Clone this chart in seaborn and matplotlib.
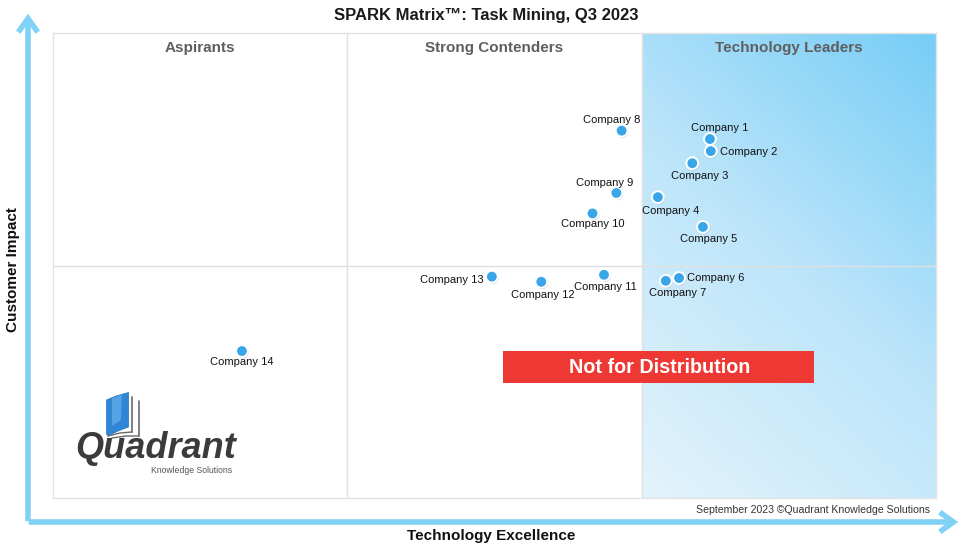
import numpy as np
import pandas as pd
import matplotlib
matplotlib.use("Agg")
import matplotlib.pyplot as plt
from matplotlib.colors import LinearSegmentedColormap
from matplotlib.patches import Polygon, Rectangle, FancyArrowPatch
import matplotlib.patheffects as pe
import seaborn as sns

# ---------------- data ----------------
companies = ["Company 1", "Company 2", "Company 3", "Company 4", "Company 5",
             "Company 6", "Company 7", "Company 8", "Company 9", "Company 10",
             "Company 11", "Company 12", "Company 13", "Company 14"]
tech_excellence = [74.4, 74.5, 72.4, 68.5, 73.6, 70.9, 69.4, 64.4, 63.8, 61.1,
                   62.4, 55.3, 49.7, 21.4]
customer_impact = [77.2, 74.6, 72.0, 64.7, 58.3, 47.3, 46.7, 79.0, 65.6, 61.2,
                   48.0, 46.5, 47.6, 31.6]
quadrant_names = ["Aspirants", "Strong Contenders", "Technology Leaders"]
title = "SPARK Matrix\u2122: Task Mining, Q3 2023"
x_title = "Technology Excellence"
y_title = "Customer Impact"
footer = "September 2023 \u00a9Quadrant Knowledge Solutions"
stamp = "Not for Distribution"

# label placement (pixel offsets, alignment) -- style only
label_style = [
    (10, 11, "center"), (9, -1, "left"), (7, -13, "center"), (13, -14, "center"),
    (6, -12.5, "center"), (8, 0, "left"), (12, -12, "center"), (-10, 10.5, "center"),
    (-12, 10, "center"), (0, -10.5, "center"), (1, -12, "center"), (2, -13, "center"),
    (-8, -3, "right"), (0, -11, "center"),
]

df = pd.DataFrame({"company": companies, "x": tech_excellence, "y": customer_impact})

sns.set_theme(style="white")
plt.rcParams["font.family"] = ["Liberation Sans", "DejaVu Sans"]

W, H = 972, 548
fig = plt.figure(figsize=(W / 100, H / 100), dpi=100)
ax = fig.add_axes([53 / W, 1 - 498 / H, (936 - 53) / W, (498 - 33) / H])
ax.set_xticks([])
ax.set_yticks([])
for s in ax.spines.values():
    s.set_color("#e2e2e2")
    s.set_linewidth(1)

# gradient in Technology Leaders column
cmap = LinearSegmentedColormap.from_list("lead", ["#e3f3fc", "#bde5fa", "#76cdf6"])
nx, ny = 200, 300
u = np.linspace(0, 1, nx)[None, :]
v = np.linspace(0, 1, ny)[:, None]
t = (u * 295 * 0.9 + v * 465) / (295 * 0.9 + 465)
ax.imshow(t, extent=[200 / 3, 100, 0, 100], origin="lower", cmap=cmap,
          aspect="auto", zorder=0, interpolation="bilinear")
ax.set_xlim(0, 100)
ax.set_ylim(0, 100)

# dividers
for xv in [100 / 3, 200 / 3]:
    ax.axvline(xv, color="#e0e0e0", lw=1, zorder=1)
ax.axhline(50, color="#e0e0e0", lw=1, zorder=1)

# quadrant titles
for i, name in enumerate(quadrant_names):
    ax.text((i + 0.5) * 100 / 3, 96.8, name, ha="center", va="center",
            fontsize=11, fontweight="bold", color="#5f5f5f", zorder=3)

# points
sns.scatterplot(data=df, x="x", y="y", ax=ax, s=72, color="#3aa6ea",
                edgecolor="white", linewidth=1.4, zorder=5, legend=False)
ax.collections[-1].set_path_effects([
    pe.SimplePatchShadow(offset=(0.6, -1.0), shadow_rgbFace="#888888", alpha=0.35),
    pe.Normal()])
ax.set_xlabel("")
ax.set_ylabel("")

for (name, xv, yv), (dx, dy, ha) in zip(zip(companies, tech_excellence, customer_impact), label_style):
    ax.annotate(name, (xv, yv), xytext=(dx, dy), textcoords="offset pixels",
                ha=ha, va="center", fontsize=8.0, color="#111111", zorder=6)

# stamp
ax.add_patch(Rectangle((503 / W, 1 - 383 / H), (814 - 503) / W, 32 / H,
                       transform=fig.transFigure, facecolor="#ee3833",
                       edgecolor="none", zorder=7))
fig.text((503 + 814) / 2 / W + 1 / W, 1 - 367.5 / H, stamp, ha="center", va="center",
         fontsize=14.2, fontweight="bold", color="white", zorder=8)

# titles
fig.text(486 / W, 1 - 15.5 / H, title, ha="center", va="center",
         fontsize=12, fontweight="bold", color="#1a1a1a")
fig.text(491 / W, 1 - 536 / H, x_title, ha="center", va="center",
         fontsize=11, fontweight="bold", color="#111111")
fig.text(13 / W, 1 - 270 / H, y_title, ha="center", va="center", rotation=90,
         fontsize=11, fontweight="bold", color="#111111")
fig.text(930 / W, 1 - 510 / H, footer, ha="right", va="center",
         fontsize=7.6, color="#333333")

# axis arrows
acol = "#7fd1f6"
def fp(x, y):
    return (x / W, 1 - y / H)
fig.add_artist(FancyArrowPatch(fp(28, 524), fp(28, 11), transform=fig.transFigure,
                               arrowstyle="->,head_length=7,head_width=5",
                               color=acol, lw=4, mutation_scale=1.4,
                               capstyle="butt", joinstyle="miter"))
fig.add_artist(FancyArrowPatch(fp(26, 522), fp(961, 522), transform=fig.transFigure,
                               arrowstyle="->,head_length=7,head_width=5",
                               color=acol, lw=4, mutation_scale=1.4,
                               capstyle="butt", joinstyle="miter"))

# logo
blue_page = Polygon([fp(106.5, 400), fp(116, 396), fp(128.5, 392.5), fp(128.5, 427),
                     fp(118, 431), fp(108, 436), fp(106.5, 434)], closed=True,
                    transform=fig.transFigure, facecolor="#2f86d6",
                    edgecolor="#1f6fbf", lw=0.5)
fig.add_artist(blue_page)
fig.add_artist(Polygon([fp(112, 398), fp(122, 394.5), fp(121, 420), fp(112, 426)],
                       closed=True, transform=fig.transFigure,
                       facecolor="#6fb5ee", edgecolor="none", alpha=0.6))
for x0, ya, yb in [(132, 397, 432), (139, 401, 436)]:
    fig.add_artist(plt.Line2D([x0 / W, x0 / W], [1 - ya / H, 1 - yb / H],
                              transform=fig.transFigure, color="#6a6a6a", lw=1.2))
fig.add_artist(plt.Line2D([108 / W, 120 / W, 132 / W], [1 - 436 / H, 1 - 433 / H, 1 - 432 / H],
                          transform=fig.transFigure, color="#6a6a6a", lw=1.0))
fig.add_artist(plt.Line2D([112 / W, 126 / W, 139 / W], [1 - 438 / H, 1 - 436 / H, 1 - 436 / H],
                          transform=fig.transFigure, color="#6a6a6a", lw=1.0))
fig.text(156 / W, 1 - 458 / H, "Quadrant", ha="center", va="baseline",
         fontsize=26, fontstyle="italic", fontweight="bold", color="#3b3b3d")
fig.text(192 / W, 1 - 470.5 / H, "Knowledge Solutions", ha="center", va="center",
         fontsize=6.2, color="#555555")

fig.savefig("out.png", dpi=100)
